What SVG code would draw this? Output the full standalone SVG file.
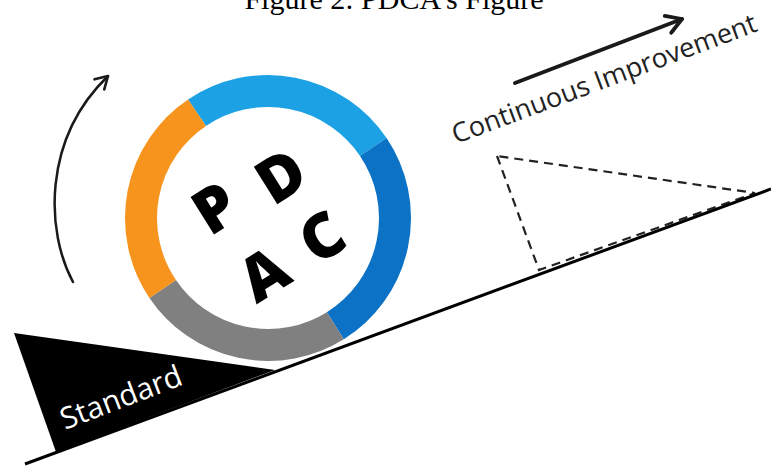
<svg xmlns="http://www.w3.org/2000/svg" width="771" height="471" viewBox="0 0 771 471">
  <style>
    .title { font-family: "Liberation Serif", "Times New Roman", serif; font-size: 30px; fill: #000; }
    .seg { fill: none; stroke-width: 32; stroke-linecap: butt; }
    .letter { font-family: "Open Sans", "DejaVu Sans", sans-serif; font-weight: 800; font-size: 62px; fill: #000; text-anchor: middle; }
    .label { font-family: "Open Sans", "DejaVu Sans", sans-serif; }
    .arrow { fill: none; stroke: #1a1a1a; stroke-linecap: round; }
    .dash { fill: none; stroke: #222; stroke-width: 2.2; stroke-dasharray: 9 6; }
  </style>
  <defs>
    <marker id="chev" viewBox="-14 -9 16 18" markerWidth="16" markerHeight="18" refX="0" refY="0" orient="auto" markerUnits="userSpaceOnUse">
      <path d="M-12,-7 L0,0 L-12,7" fill="none" stroke="#1a1a1a" stroke-width="2.6" stroke-linecap="round" stroke-linejoin="round"/>
    </marker>
    <marker id="chevBig" viewBox="-18 -11 20 22" markerWidth="20" markerHeight="22" refX="0" refY="0" orient="auto" markerUnits="userSpaceOnUse">
      <path d="M-15,-9 L0,0 L-15,9" fill="none" stroke="#1a1a1a" stroke-width="3.8" stroke-linecap="round" stroke-linejoin="round"/>
    </marker>
  </defs>
  <rect width="771" height="471" fill="#fff"/>

  <text class="title" x="394" y="9" text-anchor="middle">Figure 2: PDCA’s Figure</text>

  <g id="standard">
    <polygon points="14,333 56,452 275,370" fill="#000"/>
    <text class="label" transform="translate(65,430) rotate(-21)" font-size="30" fill="#fff">Standard</text>
  </g>

  <g id="pdca">
    <circle cx="268" cy="218" r="111" fill="#fff"/>
    <path class="seg" stroke="#1CA2E4" d="M197.0,112.7 A127,127 0 0 1 373.3,147.0"/>
    <path class="seg" stroke="#0B72C6" d="M373.3,147.0 A127,127 0 0 1 335.3,325.7"/>
    <path class="seg" stroke="#808080" d="M335.3,325.7 A127,127 0 0 1 162.7,289.0"/>
    <path class="seg" stroke="#F7941D" d="M162.7,289.0 A127,127 0 0 1 197.0,112.7"/>
    <text class="letter" transform="translate(215,208) rotate(-32)" y="22">P</text>
    <text class="letter" transform="translate(281,176) rotate(-32)" y="22">D</text>
    <text class="letter" transform="translate(322,237) rotate(-32)" y="22">C</text>
    <text class="letter" transform="translate(264,274) rotate(-32)" y="22">A</text>
  </g>

  <g id="improvement">
    <text class="label" transform="translate(456,144) rotate(-20.5)" font-size="27" fill="#222">Continuous Improvement</text>
    <polygon class="dash" points="497,156 539,270 755,193"/>
  </g>

  <g id="connectors">
    <line x1="25" y1="464" x2="771" y2="189" stroke="#000" stroke-width="3"/>
    <path class="arrow" stroke-width="2.5" d="M73,282 C46,232 42,140 108,76" marker-end="url(#chev)"/>
    <line class="arrow" stroke-width="4" x1="515" y1="83" x2="682" y2="19" marker-end="url(#chevBig)"/>
  </g>
</svg>
